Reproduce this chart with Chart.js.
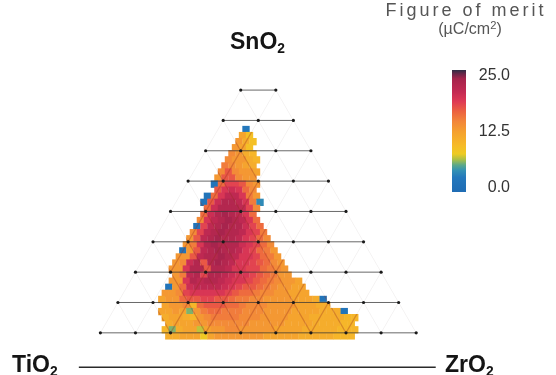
<!DOCTYPE html>
<html>
<head>
<meta charset="utf-8">
<script src="https://cdn.jsdelivr.net/npm/chart.js@4.4.1/dist/chart.umd.min.js"></script>
<style>
  html, body { margin: 0; padding: 0; background: #fff; }
  #wrap { position: relative; width: 556px; height: 375px; overflow: hidden; font-family: "Liberation Sans", Arial, sans-serif; }
  #chart { position: absolute; left: 0; top: 0; }
  .corner { position: absolute; font-weight: bold; font-size: 23px; line-height: 23px; color: #151515; white-space: nowrap; }
  .corner sub { font-size: 0.6em; vertical-align: baseline; position: relative; top: 0.32em; }
  .cb-title { position: absolute; left: 370px; width: 200px; text-align: center; color: #555; line-height: 17px; white-space: nowrap; }
  .cb-title sup { font-size: 0.7em; vertical-align: baseline; position: relative; top: -0.45em; }
  #colorbar { position: absolute; left: 452px; top: 70px; width: 14px; height: 122px; }
  .cb-tick { position: absolute; left: 460px; width: 50px; text-align: right; color: #333; font-size: 16px; line-height: 16px; }
</style>
</head>
<body>
<div id="wrap">
  <canvas id="chart" width="556" height="375"></canvas>
  <div class="corner" style="left:230px; top:30px;">SnO<sub>2</sub></div>
  <div class="corner" style="left:12px; top:353px;">TiO<sub>2</sub></div>
  <div class="corner" style="left:445px; top:353px;">ZrO<sub>2</sub></div>
  <div class="cb-title" style="top:2px; left:366px; font-size:18px; letter-spacing:3px;">Figure of merit</div>
  <div class="cb-title" style="top:20px; font-size:16px;">(µC/cm<sup>2</sup>)</div>
  <div id="colorbar"></div>
</div>
<script>
// SnO2 fraction of each heat map row (top to bottom)
const snO2Rows = [0.77, 0.75, 0.73, 0.71, 0.69, 0.67, 0.65, 0.63, 0.61, 0.59, 0.57, 0.55,
  0.53, 0.51, 0.49, 0.47, 0.45, 0.43, 0.41, 0.39, 0.37, 0.35, 0.33, 0.31, 0.29, 0.27,
  0.25, 0.23, 0.21, 0.19, 0.17, 0.15, 0.13, 0.11, 0.09];
// ZrO2 fraction of the first cell in each row
const zrO2Start = [0.08, 0.08, 0.08, 0.08, 0.08, 0.08, 0.08, 0.08, 0.08, 0.08, 0.10, 0.08,
  0.08, 0.10, 0.10, 0.10, 0.10, 0.10, 0.10, 0.10, 0.10, 0.10, 0.10, 0.10, 0.12, 0.12,
  0.12, 0.12, 0.12, 0.14, 0.14, 0.16, 0.18, 0.18, 0.20];
const zrO2Step = 0.02;
// figure of merit (µC/cm²) per cell
const meritRows = [
  [3],
  [12, 9],
  [13, 11, 9],
  [13, 12, 9],
  [14, 13, 11, 10],
  [14, 13, 13, 11, 10],
  [15, 14, 13, 12, 11],
  [14, 17, 14, 13, 13, 12],
  [13, 17, 17, 14, 13, 13],
  [2, 16, 18, 18, 17, 14, 13],
  [17, 19, 20, 19, 16, 14],
  [2, 16, 19, 21, 21, 19, 15, 13],
  [2, 17, 20, 22, 22, 21, 19, 15, 4],
  [16, 20, 22, 22, 22, 21, 18, 14],
  [16, 20, 22, 23, 22, 21, 19, 16],
  [14, 19, 21, 22, 23, 22, 21, 19, 16],
  [2, 18, 21, 22, 23, 22, 22, 20, 18, 16],
  [14, 18, 21, 22, 23, 22, 22, 21, 19, 18, 15],
  [13, 17, 21, 22, 23, 22, 22, 21, 19, 18, 16, 14],
  [13, 15, 19, 22, 23, 22, 22, 22, 20, 19, 18, 16, 14],
  [2, 13, 17, 21, 22, 23, 22, 22, 21, 19, 18, 16, 15, 13],
  [13, 13, 17, 21, 22, 22, 23, 22, 21, 19, 19, 18, 16, 15, 13],
  [13, 14, 20, 22, 17, 22, 23, 22, 21, 19, 19, 18, 17, 16, 14, 13],
  [13, 13, 19, 22, 22, 17, 22, 22, 21, 19, 19, 18, 18, 16, 15, 14, 13],
  [13, 15, 21, 22, 18, 22, 22, 21, 20, 19, 19, 18, 17, 16, 15, 13, 13],
  [13, 13, 19, 22, 21, 22, 22, 21, 20, 19, 19, 18, 17, 16, 15, 14, 13, 13, 12],
  [2, 13, 16, 20, 21, 21, 21, 21, 20, 19, 18, 17, 17, 16, 15, 14, 13, 13, 12, 12],
  [13, 13, 14, 18, 19, 19, 19, 19, 19, 18, 17, 16, 16, 15, 14, 14, 13, 13, 12, 12, 12],
  [12, 13, 13, 16, 17, 17, 18, 18, 17, 17, 16, 15, 15, 14, 14, 13, 13, 13, 13, 12, 12, 12, 11, 2],
  [12, 13, 13, 14, 10, 16, 17, 17, 17, 16, 16, 15, 14, 14, 14, 13, 13, 13, 13, 12, 12, 12, 11, 11],
  [12, 12, 13, 12, 6, 13, 15, 16, 16, 15, 15, 15, 14, 14, 14, 13, 13, 13, 13, 12, 12, 12, 12, 11, 11, 11, 2],
  [11, 12, 12, 11, 10, 13, 14, 15, 15, 15, 15, 14, 14, 14, 13, 13, 13, 13, 12, 12, 12, 11, 11, 11, 11, 11, 10, 10],
  [11, 12, 12, 12, 13, 13, 14, 14, 14, 14, 14, 14, 13, 13, 13, 13, 13, 12, 12, 12, 12, 11, 11, 11, 11, 10, 10],
  [10, 6, 11, 12, 12, 7, 12, 13, 13, 14, 14, 13, 13, 13, 13, 13, 12, 12, 12, 12, 11, 11, 11, 11, 11, 10, 10, 10],
  [11, 11, 12, 12, 12, 8, 12, 13, 13, 13, 13, 13, 13, 13, 12, 12, 12, 12, 12, 11, 11, 11, 11, 11, 10, 10, 10]
];
// ternary grid levels and colour bar
const gridLevels = [0.1, 0.2, 0.3, 0.4, 0.5, 0.6, 0.7, 0.8, 0.9];
const meritMin = 0;
const meritMax = 25;
const colorbarTicks = [25.0, 12.5, 0.0];
const colorStops = [
  [0, '#1f6cb4'], [3, '#2478bc'], [4.4, '#3391b5'], [5.5, '#5aa88a'], [6.6, '#a8bf48'],
  [7.8, '#eecb22'], [9.5, '#f6bb28'], [12.3, '#f5a12f'], [14.5, '#f2853a'], [16.5, '#ec6240'],
  [18.5, '#df3a55'], [20.5, '#c42a53'], [23.2, '#a5244c'], [24.2, '#6a2648'], [25, '#2e2c44']
];

const H = Math.sqrt(3) / 2;
// ternary (SnO2 top, ZrO2 right, TiO2 left) -> cartesian
function toXY(sn, zr) {
  return { x: zr + sn / 2, y: sn * H };
}

function hexRgb(h) {
  return [parseInt(h.slice(1, 3), 16), parseInt(h.slice(3, 5), 16), parseInt(h.slice(5, 7), 16)];
}
function meritColor(v) {
  v = Math.max(meritMin, Math.min(meritMax, v));
  for (let i = 1; i < colorStops.length; i++) {
    const [v1, c1] = colorStops[i];
    const [v0, c0] = colorStops[i - 1];
    if (v <= v1) {
      const t = (v - v0) / (v1 - v0);
      const a = hexRgb(c0), b = hexRgb(c1);
      return 'rgb(' + a.map((x, k) => Math.round(x + (b[k] - x) * t)).join(',') + ')';
    }
  }
  return colorStops[colorStops.length - 1][1];
}

// heat cells
const heatPoints = [];
meritRows.forEach((row, i) => {
  row.forEach((v, j) => {
    const p = toXY(snO2Rows[i], zrO2Start[i] + j * zrO2Step);
    heatPoints.push({ x: p.x, y: p.y, v: v });
  });
});

const datasets = [];
datasets.push({
  type: 'scatter',
  data: heatPoints,
  order: 3,
  pointStyle: 'rect',
  pointRadius: ctx => {
    const sx = ctx.chart.scales.x;
    return (sx.getPixelForValue(zrO2Step) - sx.getPixelForValue(0)) * 0.74;
  },
  pointBorderWidth: 0,
  pointBackgroundColor: ctx => meritColor(ctx.raw ? ctx.raw.v : 0)
});

// diagonal grid lines (constant ZrO2 and constant TiO2):
// a faint copy under everything, a darker copy that only tints the heat map
const lowest = gridLevels[0];
const highest = gridLevels[gridLevels.length - 1];
[0].concat(gridLevels).forEach(c => {
  const top = Math.min(highest, 1 - c);
  if (top <= lowest + 1e-9) return;
  const lineZr = [toXY(lowest, c), toXY(top, c)];
  const lineTi = [toXY(lowest, 1 - lowest - c), toXY(top, 1 - top - c)];
  [lineZr, lineTi].forEach(pts => {
    datasets.push({
      type: 'line', data: pts, order: 5,
      borderColor: 'rgba(0,0,0,0.06)', borderWidth: 1, pointRadius: 0
    });
    datasets.push({
      type: 'line', data: pts, order: 2, composite: 'source-atop',
      borderColor: 'rgba(150,40,25,0.32)', borderWidth: 1.2, pointRadius: 0
    });
  });
});

// horizontal SnO2 lines
gridLevels.forEach(s => {
  datasets.push({
    type: 'line', data: [toXY(s, 0), toXY(s, 1 - s)], order: 1,
    borderColor: 'rgba(55,55,55,0.75)', borderWidth: 1, pointRadius: 0
  });
});

// intersection dots
const dots = [];
gridLevels.forEach(s => {
  const n = Math.round((1 - s) * 10);
  for (let k = 0; k <= n; k++) dots.push(toXY(s, k / 10));
});
datasets.push({
  type: 'scatter', data: dots, order: 0,
  pointRadius: 1.6, pointBorderWidth: 0, pointBackgroundColor: '#1a1a1a'
});

// lets a dataset use its own canvas compositing mode
const compositing = {
  id: 'compositing',
  beforeDatasetDraw(chart, args) {
    const ds = chart.data.datasets[args.index];
    if (ds.composite) {
      chart.ctx.save();
      chart.ctx.globalCompositeOperation = ds.composite;
    }
  },
  afterDatasetDraw(chart, args) {
    if (chart.data.datasets[args.index].composite) chart.ctx.restore();
  }
};

// base line under the triangle
const baseLine = {
  id: 'baseLine',
  afterDatasetsDraw(chart) {
    const { ctx, scales } = chart;
    const y = scales.y.getPixelForValue(0) + 4;
    ctx.save();
    ctx.strokeStyle = '#2a2a2a';
    ctx.lineWidth = 1.6;
    ctx.beginPath();
    ctx.moveTo(scales.x.getPixelForValue(0) - 4, y);
    ctx.lineTo(scales.x.getPixelForValue(1) + 2, y);
    ctx.stroke();
    ctx.restore();
  }
};

new Chart(document.getElementById('chart'), {
  data: { datasets: datasets },
  options: {
    responsive: false,
    animation: false,
    devicePixelRatio: 1,
    events: [],
    layout: { padding: 0 },
    plugins: { legend: { display: false }, tooltip: { enabled: false } },
    scales: {
      x: { type: 'linear', min: -0.2247, max: 1.3371, display: false },
      y: { type: 'linear', min: -0.0223, max: 1.0251, display: false }
    }
  },
  plugins: [compositing, baseLine]
});

// colour bar legend
const bar = document.getElementById('colorbar');
bar.style.background = 'linear-gradient(to top, ' +
  colorStops.map(([v, c]) => c + ' ' + ((v - meritMin) / (meritMax - meritMin) * 100).toFixed(1) + '%').join(', ') + ')';
const wrap = document.getElementById('wrap');
colorbarTicks.forEach(v => {
  const el = document.createElement('div');
  el.className = 'cb-tick';
  el.textContent = v.toFixed(1);
  const centre = 75 + (1 - (v - meritMin) / (meritMax - meritMin)) * 112;
  el.style.top = (centre - 8) + 'px';
  wrap.appendChild(el);
});
</script>
</body>
</html>
